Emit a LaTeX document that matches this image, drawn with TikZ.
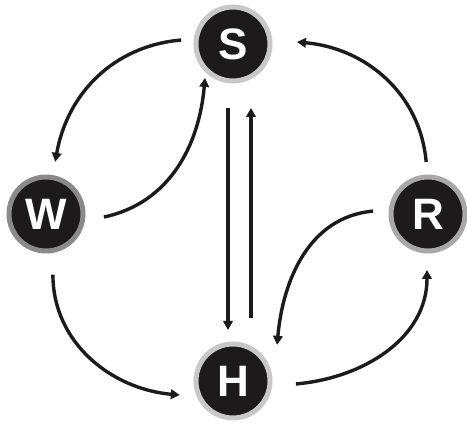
\documentclass[tikz,border=0pt]{standalone}
\usepackage{fontspec}
\setmainfont{Liberation Sans}
\usetikzlibrary{calc,arrows.meta}
\definecolor{ink}{HTML}{1C1A1B}
\definecolor{ringlight}{HTML}{C8C8C8}
\definecolor{ringmid}{HTML}{A8A8A8}
\definecolor{ringdark}{HTML}{8A8A8A}
\tikzset{
  state/.style={circle, fill=ink, draw=#1, line width=5pt, minimum size=74pt, inner sep=0pt,
    text=white, font=\fontsize{44}{44}\selectfont\bfseries},
  arr/.style={draw=ink, line width=3.4pt, -{Triangle[length=9pt,width=9.5pt]}},
}
\begin{document}
\begin{tikzpicture}[x=1pt,y=1pt]
\useasboundingbox (0,0) rectangle (467,424);
\node[state=ringlight] (S) at (233,380) {S};
\node[state=ringdark]  (W) at (46,210) {W};
\node[state=ringmid]   (R) at (428,210) {R};
\node[state=ringlight] (H) at (233,43) {H};
% curved connectors
\draw[arr] ($(S)+(175.6:52)$) to[out=185,in=80] ($(W)+(80:53)$);
\draw[arr] ($(W)+(-3:58)$) to[out=12,in=-95] ($(S)+(230.5:44)$);
\draw[arr] ($(R)+(92:52)$) to[out=95,in=-5] ($(S)+(1.8:64)$);
\draw[arr] ($(R)+(177:55)$) to[out=185,in=85] ($(H)+(39.3:57)$);
\draw[arr] ($(W)+(-83.5:61)$) to[out=-90,in=175] ($(H)+(194.8:55)$);
\draw[arr] ($(H)+(-2.7:63)$) to[out=5,in=-90] ($(R)+(269:56)$);
% straight connectors
\draw[arr] ($(S)+(-5,-64)$) -- ($(H)+(-5,51)$);
\draw[arr] ($(H)+(18,63)$) -- ($(S)+(18,-64)$);
\end{tikzpicture}
\end{document}
